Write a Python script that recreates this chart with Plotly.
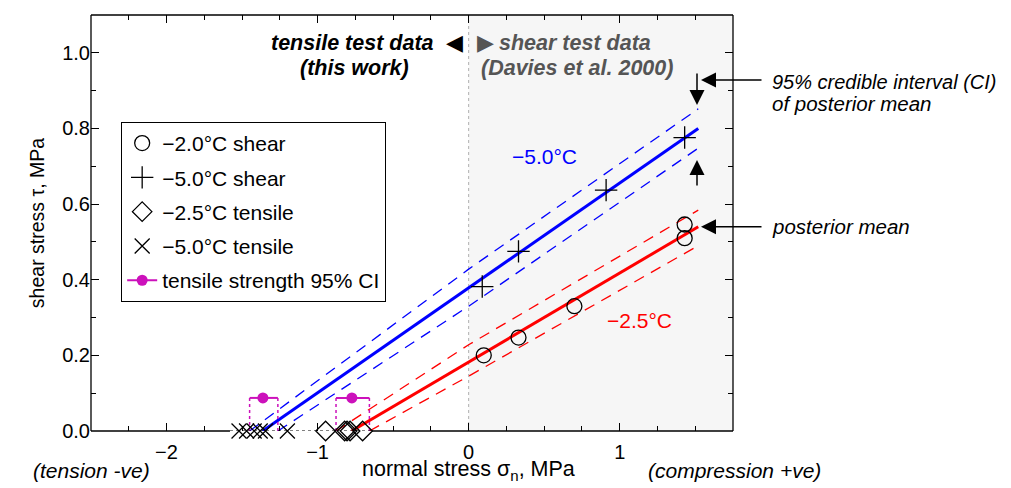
import plotly.graph_objects as go

# ---------------- data ----------------
shear_m2_x = [0.10, 0.33, 0.70, 1.43, 1.43]
shear_m2_y = [0.200, 0.247, 0.330, 0.546, 0.510]

shear_m5_x = [0.09, 0.33, 0.91, 1.43]
shear_m5_y = [0.382, 0.475, 0.637, 0.776]

tens_m25_x = [-0.947, -0.821, -0.805, -0.785, -0.702]
tens_m5_x = [-1.52, -1.47, -1.42, -1.38, -1.345, -1.20]

ci_center = [-1.362, -0.773]
ci_low = [-1.450, -0.878]
ci_high = [-1.263, -0.657]
ci_level = 0.0875

# posterior mean lines (x, y) end points
mean_m5_x = [-1.364, 1.52]
mean_m5_y = [0.0, 0.800]
mean_m25_x = [-0.775, 1.52]
mean_m25_y = [0.0, 0.540]

# 95% credible interval of posterior mean
ci5_up_x = [-1.45, 0.0, 1.52]
ci5_up_y = [0.0, 0.428, 0.852]
ci5_lo_x = [-1.263, 0.0, 1.52]
ci5_lo_y = [0.0, 0.330, 0.748]
ci25_up_x = [-0.878, 0.0, 1.52]
ci25_up_y = [0.0, 0.228, 0.584]
ci25_lo_x = [-0.657, 0.0, 1.52]
ci25_lo_y = [0.0, 0.145, 0.490]

x_ticks = [-2, -1, 0, 1]
y_ticks = [0.0, 0.2, 0.4, 0.6, 0.8, 1.0]
x_range = [-2.5, 1.75]

FONT = "Liberation Sans, Arial, sans-serif"
BLUE = "#0000ff"
RED = "#ff0000"
MAG = "#cc11bb"

fig = go.Figure()

# CI dashed lines
for xs, ys, c in [(ci5_up_x, ci5_up_y, BLUE), (ci5_lo_x, ci5_lo_y, BLUE),
                  (ci25_up_x, ci25_up_y, RED), (ci25_lo_x, ci25_lo_y, RED)]:
    fig.add_trace(go.Scatter(x=xs, y=ys, mode="lines", showlegend=False,
                             line=dict(color=c, width=1.3, dash="11px,8px"),
                             hoverinfo="skip"))
# mean lines
fig.add_trace(go.Scatter(x=mean_m5_x, y=mean_m5_y, mode="lines", showlegend=False,
                         line=dict(color=BLUE, width=3)))
fig.add_trace(go.Scatter(x=mean_m25_x, y=mean_m25_y, mode="lines", showlegend=False,
                         line=dict(color=RED, width=3)))

# tensile strength dotted drop lines
vx, vy = [], []
for lo, hi in zip(ci_low, ci_high):
    vx += [lo, lo, None, hi, hi, None]
    vy += [ci_level, 0, None, ci_level, 0, None]
fig.add_trace(go.Scatter(x=vx, y=vy, mode="lines", showlegend=False,
                         line=dict(color=MAG, width=1.5, dash="dot")))

# bottom dotted baseline
fig.add_trace(go.Scatter(x=[-1.58, -0.64], y=[0, 0], mode="lines", showlegend=False,
                         line=dict(color="black", width=1.2, dash="dot")))

# data points
fig.add_trace(go.Scatter(x=shear_m2_x, y=shear_m2_y, mode="markers", name="\u22122.0\u00b0C shear",
                         legendgroup="a",
                         marker=dict(symbol="circle-open", size=15, color="black", line=dict(width=1.3))))
fig.add_trace(go.Scatter(x=shear_m5_x, y=shear_m5_y, mode="markers", name="\u22125.0\u00b0C shear",
                         legendgroup="b",
                         marker=dict(symbol="cross-thin-open", size=16, color="black", line=dict(width=1.3, color="black"))))
fig.add_trace(go.Scatter(x=tens_m25_x, y=[0] * len(tens_m25_x), mode="markers",
                         name="\u22122.5\u00b0C tensile", legendgroup="c", cliponaxis=False,
                         marker=dict(symbol="diamond-open", size=15, color="black", line=dict(width=1.3))))
fig.add_trace(go.Scatter(x=tens_m5_x, y=[0] * len(tens_m5_x), mode="markers",
                         name="\u22125.0\u00b0C tensile", legendgroup="d", cliponaxis=False,
                         marker=dict(symbol="x-thin-open", size=15, color="black", line=dict(width=1.3, color="black"))))

# tensile strength CI
hx, hy = [], []
for lo, hi in zip(ci_low, ci_high):
    hx += [lo, hi, None]
    hy += [ci_level, ci_level, None]
fig.add_trace(go.Scatter(x=hx, y=hy, mode="lines", showlegend=False, legendgroup="e",
                         line=dict(color=MAG, width=2)))
cx, cy = [], []
for c in ci_center:
    cx += [c, None]
    cy += [ci_level, None]
fig.add_trace(go.Scatter(x=cx, y=cy, mode="lines+markers",
                         name="tensile strength 95% CI", legendgroup="e",
                         line=dict(color=MAG, width=2),
                         marker=dict(symbol="circle", size=11, color=MAG)))

# helper trace so the label axis exists
fig.add_trace(go.Scatter(x=[None], y=[None], xaxis="x2", showlegend=False, hoverinfo="skip"))

# ---------------- shapes ----------------
fig.add_shape(type="rect", xref="x", yref="paper", x0=0, x1=1.75, y0=0, y1=1,
              fillcolor="#f6f6f6", line=dict(width=0), layer="below")
fig.add_shape(type="line", xref="x", yref="paper", x0=0, x1=0, y0=0, y1=1,
              line=dict(color="#b0b0b0", width=1, dash="dot"), layer="below")
# frame
for x0, y0, x1, y1 in [(0, 1, 1, 1), (0, 0, 0, 1), (1, 0, 1, 1)]:
    fig.add_shape(type="line", xref="paper", yref="paper", x0=x0, y0=y0, x1=x1, y1=y1,
                  line=dict(color="black", width=1.3), layer="above")
fig.add_shape(type="line", xref="x", yref="paper", x0=-2.5, x1=-1.58, y0=0, y1=0,
              line=dict(color="black", width=1.3), layer="above")
fig.add_shape(type="line", xref="x", yref="paper", x0=-0.64, x1=1.75, y0=0, y1=0,
              line=dict(color="black", width=1.3), layer="above")

# ---------------- annotations ----------------
def px2paper(px, py):
    return (px - 91) / 642.0, (431.3 - py) / 416.3

ann = []

def text_at(px, py, text, size, color="black", xanchor="center"):
    tx, ty = px2paper(px, py)
    ann.append(dict(x=tx, y=ty, text=text, showarrow=False, xanchor=xanchor, yanchor="middle",
                    font=dict(size=size, color=color)))

text_at(352, 43, "<b><i>tensile test data</i></b>", 21.5)
text_at(354, 68, "<b><i>(this work)</i></b>", 21.5)
text_at(454, 43, "\u25c0", 22)
text_at(485, 43, "\u25b6", 22, "#555555")
text_at(575, 43, "<b><i>shear test data</i></b>", 21.5, "#555555")
text_at(577, 68, "<b><i>(Davies et al. 2000)</i></b>", 21.5, "#555555")
text_at(770, 82, "<i>95% credible interval (CI)</i>", 20, xanchor="left")
text_at(770, 104, "<i>of posterior mean</i>", 20.5, xanchor="left")
text_at(770, 227, "<i>posterior mean</i>", 20.5, xanchor="left")
text_at(91, 471, "<i>(tension -ve)</i>", 21)
text_at(735, 471, "<i>(compression +ve)</i>", 21)
text_at(469, 471, "normal stress \u03c3<sub>n</sub>, MPa", 21.5)

# arrows
for hxp, hyp, axp, ayp in [(701, 80, 62, 0), (697, 105, 0, -33), (697, 160, 0, 27), (701, 227, 62, 0)]:
    ax_, ay_ = px2paper(hxp, hyp)
    ann.append(dict(x=ax_, y=ay_, ax=axp, ay=ayp, text="", showarrow=True, arrowhead=2,
                    arrowsize=2, arrowwidth=1.5, arrowcolor="black"))
# line labels
ann.append(dict(x=0.503, y=0.725, xref="x", yref="y", text="\u22125.0\u00b0C", showarrow=False,
                xanchor="center", yanchor="middle", font=dict(size=21, color=BLUE)))
ann.append(dict(x=1.132, y=0.293, xref="x", yref="y", text="\u22122.5\u00b0C", showarrow=False,
                xanchor="center", yanchor="middle", font=dict(size=21, color=RED)))

for a in ann:
    a.setdefault("xref", "paper")
    a.setdefault("yref", "paper")
    fig.add_annotation(**a)

fig.update_layout(
    width=1011, height=488,
    margin=dict(l=83, r=286, t=7, b=65),
    paper_bgcolor="white", plot_bgcolor="white",
    font=dict(family=FONT, size=20, color="black"),
    showlegend=True,
    legend=dict(x=0.047, y=0.743, xanchor="left", yanchor="top",
                bgcolor="white", bordercolor="black", borderwidth=1,
                font=dict(size=21), tracegroupgap=4, itemsizing="trace"),
    xaxis=dict(range=x_range, tickvals=x_ticks, ticks="inside", ticklen=8,
               tickwidth=1.2, tickcolor="black", showgrid=False, zeroline=False,
               showline=False, mirror="ticks", showticklabels=False,
               minor=dict(dtick=0.25, tick0=0, ticks="inside", ticklen=5, tickcolor="black",
                          showgrid=False)),
    xaxis2=dict(range=x_range, overlaying="x", anchor="y", side="bottom",
                tickvals=x_ticks, ticks="outside", ticklen=3, tickcolor="rgba(0,0,0,0)",
                showgrid=False, zeroline=False, showline=False, tickfont=dict(size=20)),
    yaxis=dict(range=[0, 1.1], tickvals=y_ticks, tickformat=".1f", ticks="inside", ticklen=8,
               tickwidth=1.2, tickcolor="black", showgrid=False, zeroline=False,
               showline=False, mirror="ticks", tickfont=dict(size=20),
               title=dict(text="shear stress \u03c4, MPa", standoff=12, font=dict(size=19.5)),
               minor=dict(dtick=0.1, tick0=0, ticks="inside", ticklen=5, tickcolor="black",
                          showgrid=False)),
)

fig.write_html("out.html")
